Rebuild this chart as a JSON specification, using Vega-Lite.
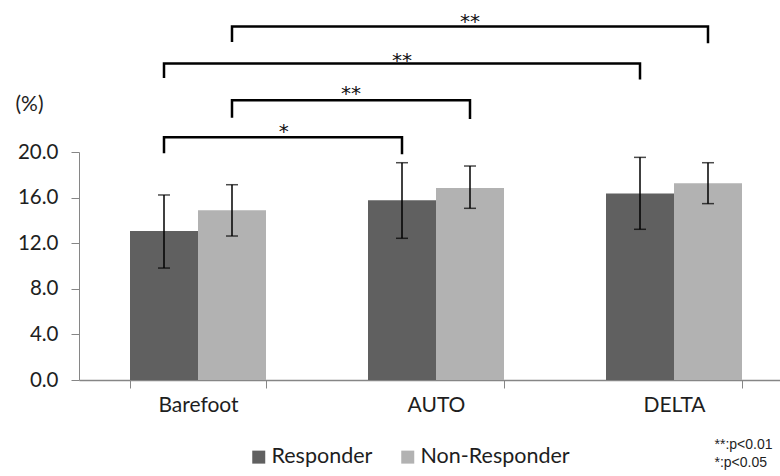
{
  "$schema": "https://vega.github.io/schema/vega-lite/v6.json",
  "width": 701,
  "height": 228,
  "autosize": {"type": "none"},
  "padding": {"left": 79, "top": 152, "right": 0, "bottom": 96},
  "background": "white",
  "config": {
    "view": {"stroke": null},
    "font": "Lato",
    "axis": {"grid": false, "domainColor": "#868686", "tickColor": "#868686", "tickSize": 8, "labelColor": "#1e1e1e", "labelFontSize": 21, "titleColor": "#1e1e1e", "titleFontWeight": "normal"},
    "legend": {"padding": 0}
  },
  "datasets": {
    "bars": [
      {"condition": "Barefoot", "group": "Responder", "mean": 13.07, "lo": 9.82, "hi": 16.23},
      {"condition": "Barefoot", "group": "Non-Responder", "mean": 14.88, "lo": 12.63, "hi": 17.13},
      {"condition": "AUTO", "group": "Responder", "mean": 15.76, "lo": 12.43, "hi": 19.06},
      {"condition": "AUTO", "group": "Non-Responder", "mean": 16.84, "lo": 15.06, "hi": 18.77},
      {"condition": "DELTA", "group": "Responder", "mean": 16.37, "lo": 13.22, "hi": 19.53},
      {"condition": "DELTA", "group": "Non-Responder", "mean": 17.25, "lo": 15.47, "hi": 19.06}
    ],
    "brackets": [
      {"bracket": "b1", "condition": "Barefoot", "group": "Responder", "value": 19.89, "ord": 1},
      {"bracket": "b1", "condition": "Barefoot", "group": "Responder", "value": 21.29, "ord": 2},
      {"bracket": "b1", "condition": "AUTO", "group": "Responder", "value": 21.29, "ord": 3},
      {"bracket": "b1", "condition": "AUTO", "group": "Responder", "value": 19.8, "ord": 4},
      {"bracket": "b2", "condition": "Barefoot", "group": "Non-Responder", "value": 23.0, "ord": 1},
      {"bracket": "b2", "condition": "Barefoot", "group": "Non-Responder", "value": 24.53, "ord": 2},
      {"bracket": "b2", "condition": "AUTO", "group": "Non-Responder", "value": 24.53, "ord": 3},
      {"bracket": "b2", "condition": "AUTO", "group": "Non-Responder", "value": 22.9, "ord": 4},
      {"bracket": "b3", "condition": "Barefoot", "group": "Responder", "value": 26.5, "ord": 1},
      {"bracket": "b3", "condition": "Barefoot", "group": "Responder", "value": 27.77, "ord": 2},
      {"bracket": "b3", "condition": "DELTA", "group": "Responder", "value": 27.77, "ord": 3},
      {"bracket": "b3", "condition": "DELTA", "group": "Responder", "value": 26.37, "ord": 4},
      {"bracket": "b4", "condition": "Barefoot", "group": "Non-Responder", "value": 29.64, "ord": 1},
      {"bracket": "b4", "condition": "Barefoot", "group": "Non-Responder", "value": 31.0, "ord": 2},
      {"bracket": "b4", "condition": "DELTA", "group": "Non-Responder", "value": 31.0, "ord": 3},
      {"bracket": "b4", "condition": "DELTA", "group": "Non-Responder", "value": 29.55, "ord": 4}
    ],
    "stars": [
      {"bracket": "b1", "label": "*", "condition": "Barefoot", "group": "Responder", "value": 22.2},
      {"bracket": "b2", "label": "**", "condition": "Barefoot", "group": "Non-Responder", "value": 25.55},
      {"bracket": "b3", "label": "**", "condition": "AUTO", "group": "Responder", "value": 28.45},
      {"bracket": "b4", "label": "**", "condition": "AUTO", "group": "Non-Responder", "value": 31.88}
    ]
  },
  "layer": [
    {
      "data": {"name": "bars"},
      "mark": {"type": "bar"},
      "encoding": {
        "x": {"field": "condition", "type": "nominal", "sort": ["Barefoot", "AUTO", "DELTA"],
          "scale": {"range": [0, 714], "paddingInner": 0.4286, "paddingOuter": 0.2143},
          "axis": {"title": ["**:p<0.01", "*:p<0.05"], "titleFont": "Liberation Sans", "titleX": 635, "titleY": 57, "titleAlign": "left", "titleBaseline": "top", "titleFontSize": 14, "titleLineHeight": 18, "titleAnchor": null, "labelAngle": 0, "tickBand": "extent", "labelPadding": 6, "domainWidth": 1.5}},
        "xOffset": {"field": "group", "type": "nominal", "sort": ["Responder", "Non-Responder"]},
        "y": {"field": "mean", "type": "quantitative", "scale": {"domain": [0, 20], "nice": false},
          "axis": {"values": [0, 4, 8, 12, 16, 20], "format": ".1f", "labelPadding": 13, "labelFontSize": 20.5, "title": "(%)", "titleAngle": 0, "titleX": -50, "titleY": -48, "titleAlign": "center", "titleBaseline": "middle", "titleFontSize": 21}},
        "color": {"field": "group", "type": "nominal", "sort": ["Responder", "Non-Responder"],
          "scale": {"domain": ["Responder", "Non-Responder"], "range": ["#606060", "#b2b2b2"]},
          "legend": {"title": null, "orient": "none", "legendX": 169, "legendY": 294, "direction": "horizontal", "symbolType": "square", "symbolSize": 169, "symbolStrokeWidth": 0, "labelFontSize": 21.5, "labelColor": "#1e1e1e", "labelOffset": 2, "columnPadding": 24}}
      }
    },
    {
      "data": {"name": "bars"},
      "mark": {"type": "rule", "color": "#000000", "strokeWidth": 1.5},
      "encoding": {
        "x": {"field": "condition", "type": "nominal", "sort": ["Barefoot", "AUTO", "DELTA"]},
        "xOffset": {"field": "group", "type": "nominal", "sort": ["Responder", "Non-Responder"]},
        "y": {"field": "lo", "type": "quantitative", "scale": {"domain": [0, 20], "nice": false}},
        "y2": {"field": "hi"}
      }
    },
    {
      "data": {"name": "bars"},
      "mark": {"type": "tick", "color": "#000000", "thickness": 1.5, "size": 12},
      "encoding": {
        "x": {"field": "condition", "type": "nominal", "sort": ["Barefoot", "AUTO", "DELTA"]},
        "xOffset": {"field": "group", "type": "nominal", "sort": ["Responder", "Non-Responder"]},
        "y": {"field": "lo", "type": "quantitative", "scale": {"domain": [0, 20], "nice": false}}
      }
    },
    {
      "data": {"name": "bars"},
      "mark": {"type": "tick", "color": "#000000", "thickness": 1.5, "size": 12},
      "encoding": {
        "x": {"field": "condition", "type": "nominal", "sort": ["Barefoot", "AUTO", "DELTA"]},
        "xOffset": {"field": "group", "type": "nominal", "sort": ["Responder", "Non-Responder"]},
        "y": {"field": "hi", "type": "quantitative", "scale": {"domain": [0, 20], "nice": false}}
      }
    },
    {
      "data": {"name": "brackets"},
      "mark": {"type": "line", "color": "#000000", "strokeWidth": 2.5, "strokeJoin": "miter", "clip": false},
      "encoding": {
        "x": {"field": "condition", "type": "nominal", "sort": ["Barefoot", "AUTO", "DELTA"]},
        "xOffset": {"field": "group", "type": "nominal", "sort": ["Responder", "Non-Responder"]},
        "y": {"field": "value", "type": "quantitative", "scale": {"domain": [0, 20], "nice": false}},
        "detail": {"field": "bracket"},
        "order": {"field": "ord"}
      }
    },
    {
      "data": {"name": "stars"},
      "transform": [{"filter": "datum.bracket == 'b1'"}],
      "mark": {"type": "text", "font": "DejaVu Sans", "fontSize": 20, "color": "#111111", "baseline": "middle", "dy": 5, "clip": false},
      "encoding": {
        "x": {"field": "condition", "type": "nominal", "sort": ["Barefoot", "AUTO", "DELTA"], "bandPosition": 1.13},
        "y": {"field": "value", "type": "quantitative", "scale": {"domain": [0, 20], "nice": false}},
        "text": {"field": "label"}
      }
    },
    {
      "data": {"name": "stars"},
      "transform": [{"filter": "datum.bracket == 'b2'"}],
      "mark": {"type": "text", "font": "DejaVu Sans", "fontSize": 20, "color": "#111111", "baseline": "middle", "dy": 5, "clip": false},
      "encoding": {
        "x": {"field": "condition", "type": "nominal", "sort": ["Barefoot", "AUTO", "DELTA"], "bandPosition": 1.625},
        "y": {"field": "value", "type": "quantitative", "scale": {"domain": [0, 20], "nice": false}},
        "text": {"field": "label"}
      }
    },
    {
      "data": {"name": "stars"},
      "transform": [{"filter": "datum.bracket == 'b3' || datum.bracket == 'b4'"}],
      "mark": {"type": "text", "font": "DejaVu Sans", "fontSize": 20, "color": "#111111", "baseline": "middle", "dy": 5, "clip": false},
      "encoding": {
        "x": {"field": "condition", "type": "nominal", "sort": ["Barefoot", "AUTO", "DELTA"]},
        "xOffset": {"field": "group", "type": "nominal", "sort": ["Responder", "Non-Responder"]},
        "y": {"field": "value", "type": "quantitative", "scale": {"domain": [0, 20], "nice": false}},
        "text": {"field": "label"}
      }
    }
  ]
}
